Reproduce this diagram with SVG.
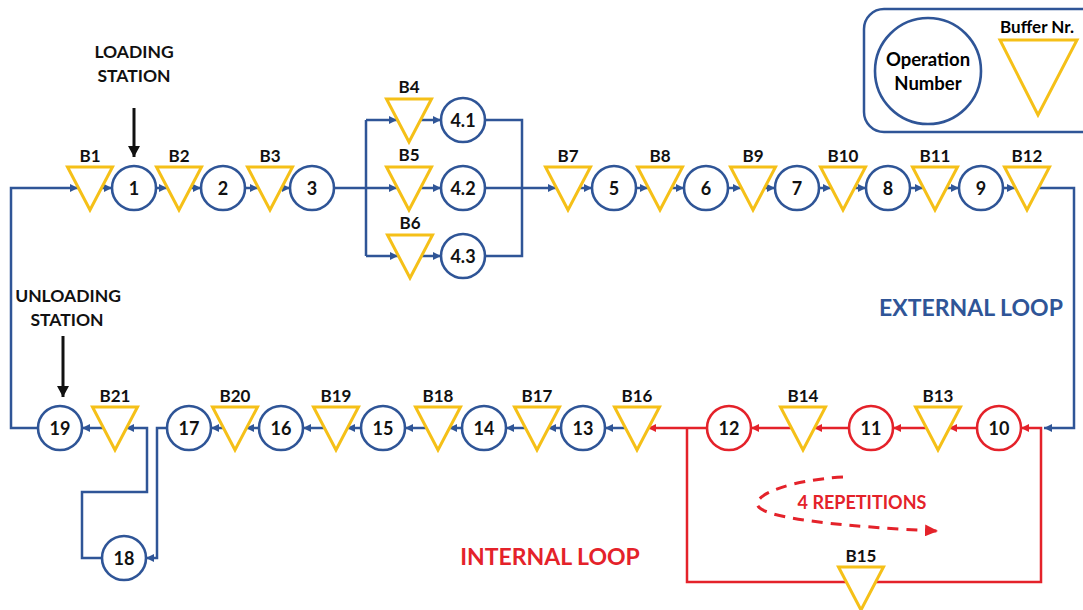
<svg xmlns="http://www.w3.org/2000/svg" width="1083" height="610" viewBox="0 0 1083 610">
<style>
text{font-family:Lato,"Liberation Sans",sans-serif;font-weight:700;text-anchor:middle}
.lb{font-size:17px;fill:#111}
.num{font-size:18px;fill:#111}
.op{fill:#fff;stroke:#2F5597;stroke-width:2.6}
.opr{fill:#fff;stroke:#E4222A;stroke-width:2.6}
.buf{fill:#fff;stroke:#F5C018;stroke-width:3;stroke-linejoin:miter}
.cb{fill:none;stroke:#2F5597;stroke-width:2.5}
.cr{fill:none;stroke:#E4222A;stroke-width:2.5}
.st{font-size:17.5px;fill:#111}
</style>
<defs>
<marker id="ab" markerUnits="userSpaceOnUse" markerWidth="9" markerHeight="8" refX="8" refY="4" orient="auto"><path d="M0,0 L8,4 L0,8 z" fill="#2F5597"/></marker>
<marker id="ar" markerUnits="userSpaceOnUse" markerWidth="9" markerHeight="8" refX="8" refY="4" orient="auto"><path d="M0,0 L8,4 L0,8 z" fill="#E4222A"/></marker>
<marker id="ak" markerUnits="userSpaceOnUse" markerWidth="12" markerHeight="12" refX="11" refY="6" orient="auto"><path d="M0,0 L11,6 L0,12 z" fill="#111"/></marker>
<marker id="ard" markerUnits="userSpaceOnUse" markerWidth="14" markerHeight="12" refX="13" refY="6" orient="auto"><path d="M0,0 L13,6 L0,12 z" fill="#E4222A"/></marker>
<path id="tri" d="M-22.5,-21 L22.5,-21 L0,22 z"/>
</defs>

<g id="connectors">
<g class="cb">
<path d="M38 428 L11 428 L11 188 L78 188" marker-end="url(#ab)"/>
<path d="M101 188 L112 188" marker-end="url(#ab)"/>
<path d="M156 188 L167 188" marker-end="url(#ab)"/>
<path d="M190 188 L201 188" marker-end="url(#ab)"/>
<path d="M245 188 L258 188" marker-end="url(#ab)"/>
<path d="M281 188 L290 188" marker-end="url(#ab)"/>
<path d="M334 188 L366 188 M366 120 L366 256"/>
<path d="M366 120 L397 120" marker-end="url(#ab)"/>
<path d="M366 188 L397 188" marker-end="url(#ab)"/>
<path d="M366 256 L398 256" marker-end="url(#ab)"/>
<path d="M420 120 L441 120" marker-end="url(#ab)"/>
<path d="M420 188 L441 188" marker-end="url(#ab)"/>
<path d="M421 256 L441 256" marker-end="url(#ab)"/>
<path d="M485 120 L522 120 L522 256 L485 256"/>
<path d="M485 188 L556 188" marker-end="url(#ab)"/>
<path d="M579 188 L592 188" marker-end="url(#ab)"/>
<path d="M636 188 L648 188" marker-end="url(#ab)"/>
<path d="M671 188 L684 188" marker-end="url(#ab)"/>
<path d="M728 188 L741 188" marker-end="url(#ab)"/>
<path d="M764 188 L775 188" marker-end="url(#ab)"/>
<path d="M819 188 L831 188" marker-end="url(#ab)"/>
<path d="M854 188 L866 188" marker-end="url(#ab)"/>
<path d="M910 188 L923 188" marker-end="url(#ab)"/>
<path d="M946 188 L959 188" marker-end="url(#ab)"/>
<path d="M1003 188 L1015 188" marker-end="url(#ab)"/>
<path d="M1038 188 L1074 188 L1074 428 L1044 428" marker-end="url(#ab)"/>
<path d="M626 428 L605 428" marker-end="url(#ab)"/>
<path d="M561 428 L548 428" marker-end="url(#ab)"/>
<path d="M526 428 L506 428" marker-end="url(#ab)"/>
<path d="M462 428 L449 428" marker-end="url(#ab)"/>
<path d="M427 428 L405 428" marker-end="url(#ab)"/>
<path d="M361 428 L347 428" marker-end="url(#ab)"/>
<path d="M325 428 L303 428" marker-end="url(#ab)"/>
<path d="M259 428 L246 428" marker-end="url(#ab)"/>
<path d="M224 428 L211 428" marker-end="url(#ab)"/>
<path d="M167 428 L157 428 L157 558 L146 558" marker-end="url(#ab)"/>
<path d="M102 558 L82 558 L82 492 L147 492 L147 428 L126 428" marker-end="url(#ab)"/>
<path d="M104 428 L82 428" marker-end="url(#ab)"/>
</g>
<g class="cr">
<path d="M687 428 L687 582 L1041 582 L1041 428 L1021 428" marker-end="url(#ar)"/>
<path d="M977 428 L949 428" marker-end="url(#ar)"/>
<path d="M927 428 L893 428" marker-end="url(#ar)"/>
<path d="M849 428 L814 428" marker-end="url(#ar)"/>
<path d="M792 428 L751 428" marker-end="url(#ar)"/>
<path d="M707 428 L648 428" marker-end="url(#ar)"/>
<path d="M843 477 C790 480 752 495 758 506 C765 519 850 527 938 531" stroke-width="3" stroke-dasharray="11 8" marker-end="url(#ard)"/>
</g>
<path d="M134 108 L134 157" stroke="#111" stroke-width="3" marker-end="url(#ak)"/>
<path d="M63 336 L63 397" stroke="#111" stroke-width="3" marker-end="url(#ak)"/>
</g>

<g id="legend">
<rect x="864" y="9" width="240" height="123" rx="20" fill="none" stroke="#2F5597" stroke-width="2.5"/>
<circle cx="928" cy="71" r="53" class="op"/>
<text x="928" y="66" style="font-size:18.5px">Operation</text>
<text x="928" y="90" style="font-size:18.5px">Number</text>
<text x="1037" y="33" style="font-size:17px">Buffer Nr.</text>
<path d="M1000 40 L1077 40 L1038 115 z" class="buf"/>
</g>

<g id="labels">
<text class="st" x="134" y="58">LOADING</text>
<text class="st" x="134" y="82">STATION</text>
<text class="st" x="68" y="302">UNLOADING</text>
<text class="st" x="67" y="326">STATION</text>
<text x="971" y="316" style="font-size:23px;fill:#2F5597">EXTERNAL LOOP</text>
<text x="550" y="565" style="font-size:23px;fill:#E4222A">INTERNAL LOOP</text>
<text x="862" y="509" style="font-size:18px;fill:#E4222A">4 REPETITIONS</text>
</g>

<!-- buffers -->
<g id="B1"><use href="#tri" x="90" y="188" class="buf"/><text class="lb" x="90" y="162">B1</text></g>
<g id="B2"><use href="#tri" x="179" y="188" class="buf"/><text class="lb" x="179" y="162">B2</text></g>
<g id="B3"><use href="#tri" x="270" y="188" class="buf"/><text class="lb" x="270" y="162">B3</text></g>
<g id="B4"><use href="#tri" x="409" y="120" class="buf"/><text class="lb" x="409" y="93">B4</text></g>
<g id="B5"><use href="#tri" x="409" y="188" class="buf"/><text class="lb" x="409" y="161">B5</text></g>
<g id="B6"><use href="#tri" x="410" y="256" class="buf"/><text class="lb" x="410" y="229">B6</text></g>
<g id="B7"><use href="#tri" x="568" y="188" class="buf"/><text class="lb" x="568" y="162">B7</text></g>
<g id="B8"><use href="#tri" x="660" y="188" class="buf"/><text class="lb" x="660" y="162">B8</text></g>
<g id="B9"><use href="#tri" x="753" y="188" class="buf"/><text class="lb" x="753" y="162">B9</text></g>
<g id="B10"><use href="#tri" x="843" y="188" class="buf"/><text class="lb" x="843" y="162">B10</text></g>
<g id="B11"><use href="#tri" x="935" y="188" class="buf"/><text class="lb" x="935" y="162">B11</text></g>
<g id="B12"><use href="#tri" x="1027" y="188" class="buf"/><text class="lb" x="1027" y="162">B12</text></g>
<g id="B13"><use href="#tri" x="938" y="428" class="buf"/><text class="lb" x="938" y="402">B13</text></g>
<g id="B14"><use href="#tri" x="803" y="428" class="buf"/><text class="lb" x="803" y="402">B14</text></g>
<g id="B15"><use href="#tri" x="861" y="588" class="buf"/><text class="lb" x="861" y="562">B15</text></g>
<g id="B16"><use href="#tri" x="637" y="428" class="buf"/><text class="lb" x="637" y="402">B16</text></g>
<g id="B17"><use href="#tri" x="537" y="428" class="buf"/><text class="lb" x="537" y="402">B17</text></g>
<g id="B18"><use href="#tri" x="438" y="428" class="buf"/><text class="lb" x="438" y="402">B18</text></g>
<g id="B19"><use href="#tri" x="336" y="428" class="buf"/><text class="lb" x="336" y="402">B19</text></g>
<g id="B20"><use href="#tri" x="235" y="428" class="buf"/><text class="lb" x="235" y="402">B20</text></g>
<g id="B21"><use href="#tri" x="115" y="428" class="buf"/><text class="lb" x="115" y="402">B21</text></g>

<!-- operations -->
<g id="op1"><circle cx="134" cy="188" r="22" class="op"/><text class="num" x="134" y="194.5">1</text></g>
<g id="op2"><circle cx="223" cy="188" r="22" class="op"/><text class="num" x="223" y="194.5">2</text></g>
<g id="op3"><circle cx="312" cy="188" r="22" class="op"/><text class="num" x="312" y="194.5">3</text></g>
<g id="op4_1"><circle cx="463" cy="120" r="22" class="op"/><text class="num" x="463" y="126.5">4.1</text></g>
<g id="op4_2"><circle cx="463" cy="188" r="22" class="op"/><text class="num" x="463" y="194.5">4.2</text></g>
<g id="op4_3"><circle cx="463" cy="256" r="22" class="op"/><text class="num" x="463" y="262.5">4.3</text></g>
<g id="op5"><circle cx="614" cy="188" r="22" class="op"/><text class="num" x="614" y="194.5">5</text></g>
<g id="op6"><circle cx="706" cy="188" r="22" class="op"/><text class="num" x="706" y="194.5">6</text></g>
<g id="op7"><circle cx="797" cy="188" r="22" class="op"/><text class="num" x="797" y="194.5">7</text></g>
<g id="op8"><circle cx="888" cy="188" r="22" class="op"/><text class="num" x="888" y="194.5">8</text></g>
<g id="op9"><circle cx="981" cy="188" r="22" class="op"/><text class="num" x="981" y="194.5">9</text></g>
<g id="op10"><circle cx="999" cy="428" r="22" class="opr"/><text class="num" x="999" y="434.5">10</text></g>
<g id="op11"><circle cx="871" cy="428" r="22" class="opr"/><text class="num" x="871" y="434.5">11</text></g>
<g id="op12"><circle cx="729" cy="428" r="22" class="opr"/><text class="num" x="729" y="434.5">12</text></g>
<g id="op13"><circle cx="583" cy="428" r="22" class="op"/><text class="num" x="583" y="434.5">13</text></g>
<g id="op14"><circle cx="484" cy="428" r="22" class="op"/><text class="num" x="484" y="434.5">14</text></g>
<g id="op15"><circle cx="383" cy="428" r="22" class="op"/><text class="num" x="383" y="434.5">15</text></g>
<g id="op16"><circle cx="281" cy="428" r="22" class="op"/><text class="num" x="281" y="434.5">16</text></g>
<g id="op17"><circle cx="189" cy="428" r="22" class="op"/><text class="num" x="189" y="434.5">17</text></g>
<g id="op18"><circle cx="124" cy="558" r="22" class="op"/><text class="num" x="124" y="564.5">18</text></g>
<g id="op19"><circle cx="60" cy="428" r="22" class="op"/><text class="num" x="60" y="434.5">19</text></g>
</svg>
